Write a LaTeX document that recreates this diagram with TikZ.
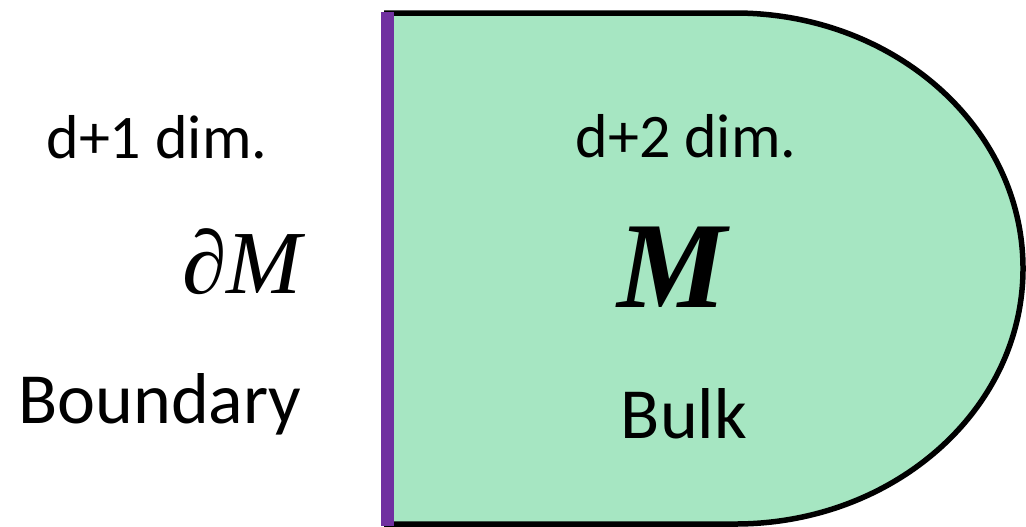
\documentclass[tikz,border=0pt]{standalone}
\usepackage{fontspec}
\setmainfont{Carlito}
\newfontfamily\timesfont{Liberation Serif}
\usepackage{tikz}
\usetikzlibrary{calc,positioning}
\definecolor{bulkgreen}{RGB}{166,230,194}
\definecolor{edgepurple}{RGB}{112,48,160}

\begin{document}
\begin{tikzpicture}[x=0.5pt, y=-0.5pt, every node/.style={inner sep=0pt, anchor=base},
    dimlbl/.style={font=\fontsize{31}{31}\selectfont},
    namelbl/.style={font=\fontsize{36}{36}\selectfont}]
        \useasboundingbox (0,0) rectangle (1026,526);
        % bulk region
        \fill[bulkgreen] (384,13) -- (735,13) arc (-90:90:288 and 255.5) -- (384,524) -- cycle;
        \draw[line width=2.75pt] (384,13) -- (735,13) arc (-90:90:288 and 255.5) -- (384,524);
        % boundary
        \draw[edgepurple, line width=6.5pt] (387,12) -- (387,526);
        % left side
        \node[dimlbl] (dimL) at (157,158) {d+1 dim.};
        \node[font=\fontsize{45}{45}\selectfont\timesfont\itshape] (dM) at (242,293) {∂M};
        \node[namelbl] (boundary) at (160,423) {Boundary};
        % right side
        \node[dimlbl] (dimR) at (686,157) {d+2 dim.};
        \node[font=\fontsize{61.5}{61.5}\selectfont\timesfont\bfseries\itshape] (bulkM) at (672,307) {M};
        \node[namelbl] (bulk) at (684,438) {Bulk};
      \end{tikzpicture}
\end{document}
